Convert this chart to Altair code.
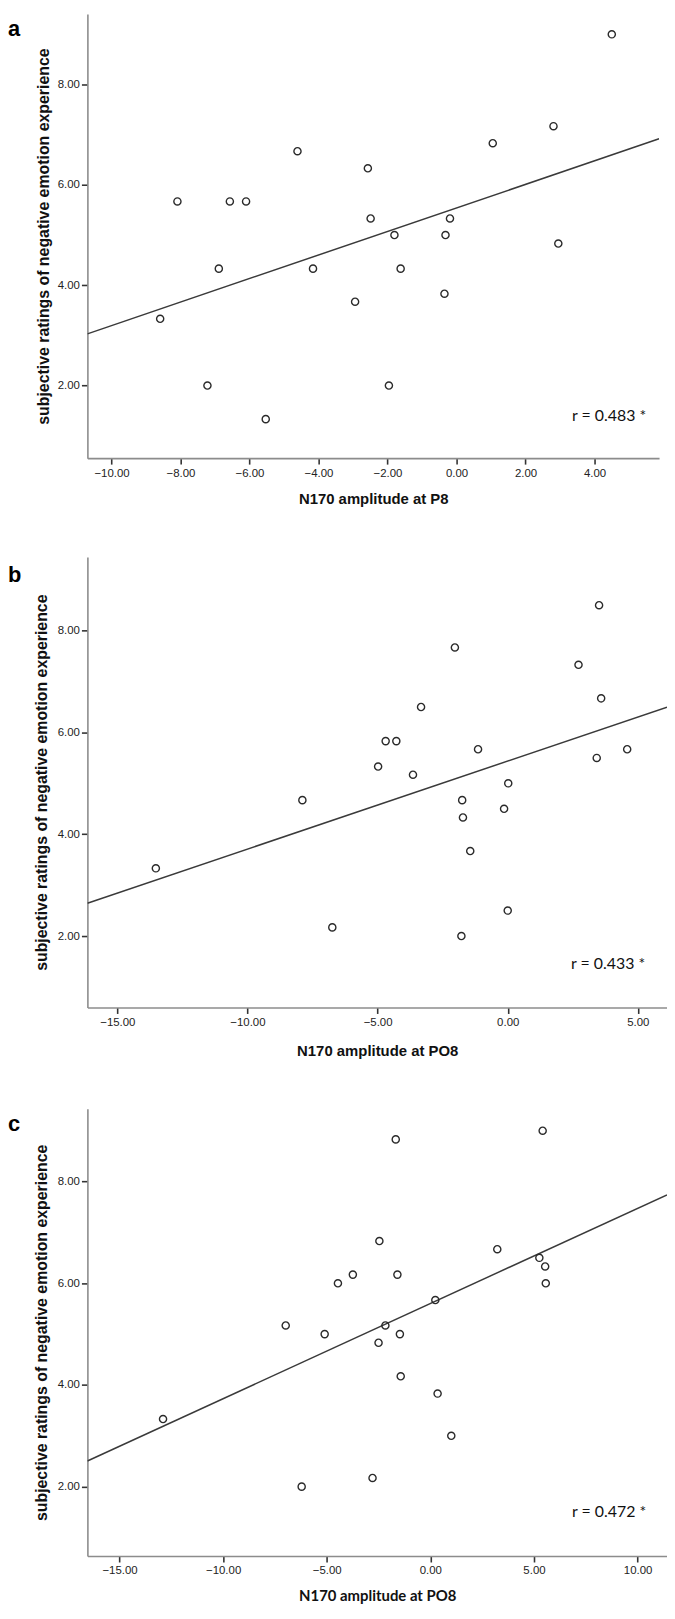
import altair as alt
import pandas as pd

# ---------------- data ----------------
# Panel a: N170 amplitude at P8
a_x = [4.50, 2.81, 1.05, -4.61, -2.57, -8.09, -6.57, -6.10, -2.49, -0.19, -1.80,
       -0.32, 2.95, -6.89, -4.16, -1.62, -0.35, -2.94, -8.59, -7.22, -1.96, -5.53]
a_y = [9.00, 7.17, 6.83, 6.67, 6.33, 5.67, 5.67, 5.67, 5.33, 5.33, 5.00,
       5.00, 4.83, 4.33, 4.33, 4.33, 3.83, 3.67, 3.33, 2.00, 2.00, 1.33]

# Panel b: N170 amplitude at PO8
b_x = [3.51, -2.03, 2.72, 3.59, -3.33, -4.69, -4.28, -1.14, 4.59, 3.42, -4.98,
       -3.64, 0.02, -7.89, -1.75, -0.14, -1.72, -1.44, -13.52, 0.00, -6.74, -1.78]
b_y = [8.50, 7.67, 7.33, 6.67, 6.50, 5.83, 5.83, 5.67, 5.67, 5.50, 5.33,
       5.17, 5.00, 4.67, 4.67, 4.50, 4.33, 3.67, 3.33, 2.50, 2.17, 2.00]

# Panel c: N170 amplitude at PO8
c_x = [5.42, -1.67, -2.46, 3.23, 5.26, 5.54, -3.74, -1.59, -4.46, 5.57, 0.24,
       -6.98, -2.17, -5.10, -1.47, -2.50, -1.43, 0.35, -12.90, 1.01, -2.79, -6.21]
c_y = [9.00, 8.83, 6.83, 6.67, 6.50, 6.33, 6.17, 6.17, 6.00, 6.00, 5.67,
       5.17, 5.17, 5.00, 5.00, 4.83, 4.17, 3.83, 3.33, 3.00, 2.17, 2.00]

letters = ["a", "b", "c"]
r_labels = ["r = 0.483 *", "r = 0.433 *", "r = 0.472 *"]
x_titles = ["N170 amplitude at P8", "N170 amplitude at PO8", "N170 amplitude at PO8"]
y_title = "subjective ratings of negative emotion experience"
x_ticks = [[-10, -8, -6, -4, -2, 0, 2, 4],
           [-15, -10, -5, 0, 5],
           [-15, -10, -5, 0, 5, 10]]
y_ticks = [2, 4, 6, 8]
x_domains = [[-10.699, 5.87], [-16.15, 6.12], [-16.55, 11.42]]
y_domains = [[0.552, 9.405], [0.596, 9.449], [0.635, 9.433]]

# ---------------- layout / style ----------------
widths = [576, 584, 584]
heights = [447.5, 454, 450.7]
letter_x = -80
letter_y = [22, 25, 22.4]
x_title_pad = [13.3, 15.8, 12.8]
x_title_font = ["Liberation Sans", "Liberation Sans", "Lato"]
y_title_pad = [6, 8, 8]
r_right = [563, 562, 563]
r_y = [405, 410, 406]

xs = [a_x, b_x, c_x]
ys = [a_y, b_y, c_y]


def panel(i):
    df = pd.DataFrame({"x": xs[i], "y": ys[i]})
    base = alt.Chart(df)
    xenc = alt.X(
        "x:Q",
        scale=alt.Scale(domain=x_domains[i], nice=False, zero=False),
        axis=alt.Axis(
            values=x_ticks[i], format=".2f", title=x_titles[i],
            titleFont=x_title_font[i], titleFontSize=15, titleFontWeight="bold",
            titleColor="#111", titlePadding=x_title_pad[i],
            labelFont="Liberation Sans", labelFontSize=11.5, labelColor="#222",
            labelPadding=3, tickSize=6, tickColor="#333", tickWidth=1.6,
            domainColor="#8c8c8c", domainWidth=1.6, grid=False,
        ),
    )
    yenc = alt.Y(
        "y:Q",
        scale=alt.Scale(domain=y_domains[i], nice=False, zero=False),
        axis=alt.Axis(
            values=y_ticks, format=".2f", title=y_title,
            titleFont="Liberation Sans", titleFontSize=16, titleFontWeight="bold",
            titleColor="#111", titlePadding=y_title_pad[i],
            labelFont="Liberation Sans", labelFontSize=11.5, labelColor="#222",
            labelPadding=2, tickSize=6, tickColor="#333", tickWidth=1.6,
            domainColor="#8c8c8c", domainWidth=1.6, grid=False,
        ),
    )
    pts = base.mark_point(
        shape="circle", filled=False, size=52, stroke="#2a2a2a", strokeWidth=1.4, opacity=1
    ).encode(x=xenc, y=yenc)
    line = base.transform_regression(
        "x", "y", extent=x_domains[i]
    ).mark_line(color="#3a3a3a", strokeWidth=1.5, clip=True).encode(x="x:Q", y="y:Q")
    ann = pd.DataFrame({"t": [r_labels[i]], "l": [letters[i]]})
    txt = alt.Chart(ann).mark_text(
        align="right", baseline="middle", font="Lato", fontSize=16, color="#111"
    ).encode(text="t:N", x=alt.value(r_right[i]), y=alt.value(r_y[i]))
    let = alt.Chart(ann).mark_text(
        align="left", baseline="alphabetic", font="Liberation Sans", fontSize=22,
        fontWeight="bold", color="#000"
    ).encode(text="l:N", x=alt.value(letter_x), y=alt.value(letter_y[i]))
    return alt.layer(line, pts, txt, let).properties(width=widths[i], height=heights[i])


chart = alt.concat(panel(0), panel(1), panel(2), columns=1, spacing=50).properties(
    padding=0, background="white"
).configure_view(stroke=None)

chart.save("out.html", embed_options={"renderer": "svg", "actions": False})
